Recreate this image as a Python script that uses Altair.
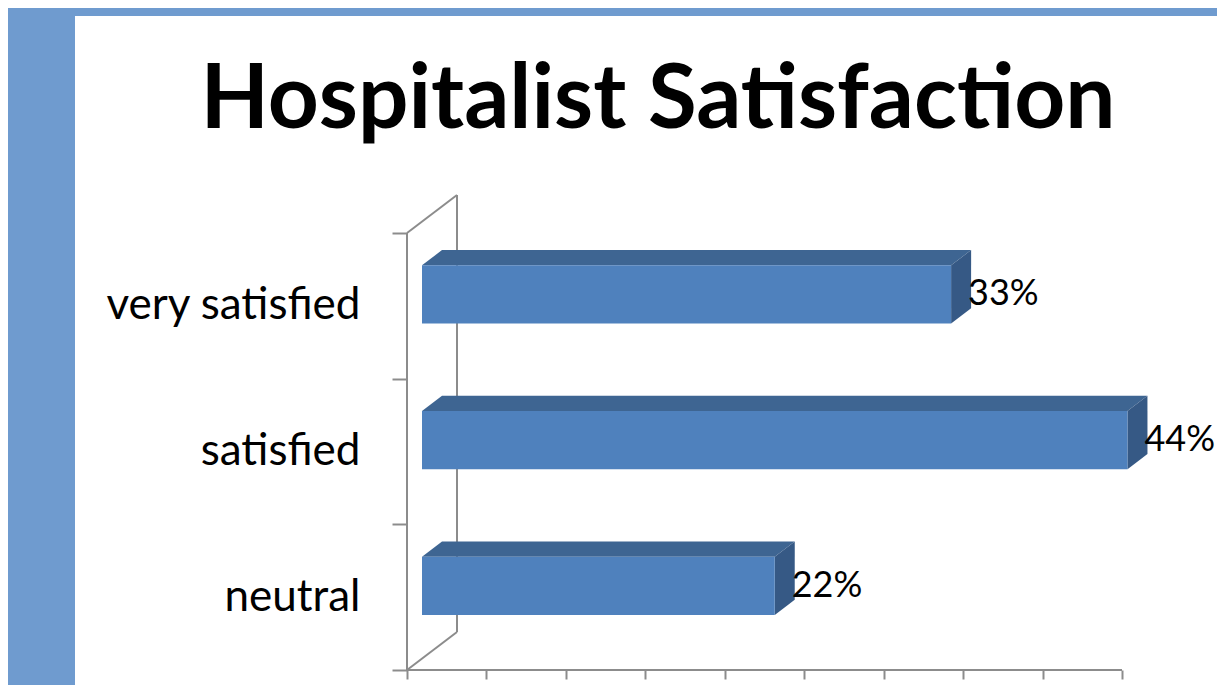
import altair as alt
import pandas as pd

# ---------------- data ----------------
categories = ["neutral", "satisfied", "very satisfied"]
values = [22.2, 44.4, 33.3]
value_labels = ["22%", "44%", "33%"]
title_text = "Hospitalist Satisfaction"
x_ticks = [0, 5, 10, 15, 20, 25, 30, 35, 40, 45]
y_ticks = [0, 1, 2, 3]

# ---------------- geometry / style ----------------
W, H = 1142, 669            # view (white slide area)
AX_LEFT = 332               # px from view left to front value axis
AX_BOTTOM = 654             # px from view top to front floor edge
PX_PCT = 715 / 45
PX_SLOT = 437 / 3
X_DOM = [-AX_LEFT / PX_PCT, (W - AX_LEFT) / PX_PCT]
Y_DOM = [-(H - AX_BOTTOM) / PX_SLOT, AX_BOTTOM / PX_SLOT]
DX = 50 / PX_PCT            # full depth shift in data units
DY = 38 / PX_SLOT
D0, D1 = 0.3, 0.7           # bar depth range
HALF = 0.2                  # half bar thickness (slot units)

FRONT = "#4f81bd"
TOP = "#3e6592"
SIDE = "#365985"
GRID = "#8c8c8c"
BG = "#6f9bcf"
FONT = "Lato"

front_rows, top_rows, side_rows, lab_rows = [], [], [], []
for i, (c, v, lab) in enumerate(zip(categories, values, value_labels)):
    ctr = i + 0.5
    x0 = D0 * DX
    x1 = v + D0 * DX
    yb = ctr - HALF + D0 * DY
    yt = ctr + HALF + D0 * DY
    bx = (D1 - D0) * DX
    by = (D1 - D0) * DY
    front_rows.append(dict(cat=c, x=x0, x2=x1, y=yb, y2=yt))
    top_rows += [
        dict(cat=c, x=x0, y=yt, y2=yt),
        dict(cat=c, x=x0 + bx, y=yt, y2=yt + by),
        dict(cat=c, x=x1, y=yt, y2=yt + by),
        dict(cat=c, x=x1 + bx, y=yt + by, y2=yt + by),
    ]
    side_rows += [
        dict(cat=c, x=x1, y=yb, y2=yt),
        dict(cat=c, x=x1 + bx, y=yb + by, y2=yt + by),
    ]
    lab_rows.append(dict(cat=c, x=v + D1 * DX, y=ctr + D0 * DY, label=lab))

frame_rows = [
    dict(x=0, y=0, x2=0, y2=3),
    dict(x=0, y=3, x2=DX, y2=3 + DY),
    dict(x=DX, y=DY, x2=DX, y2=3 + DY),
    dict(x=0, y=0, x2=DX, y2=DY),
    dict(x=0, y=0, x2=x_ticks[-1], y2=0),
]

front_df = pd.DataFrame(front_rows)
top_df = pd.DataFrame(top_rows)
side_df = pd.DataFrame(side_rows)
lab_df = pd.DataFrame(lab_rows)
frame_df = pd.DataFrame(frame_rows)

label_expr = " : ".join(
    f"datum.value == {i + 0.5} ? '{c}'" for i, c in enumerate(categories)
) + " : ''"

xs = alt.Scale(domain=X_DOM, nice=False, zero=False)
ys = alt.Scale(domain=Y_DOM, nice=False, zero=False)

x_axis = alt.Axis(
    values=x_ticks, labels=False, domain=False, grid=False, title=None,
    tickSize=9, tickWidth=2, tickColor=GRID, orient="bottom",
    offset=-(H - AX_BOTTOM),
)
y_axis = alt.Axis(
    values=[0, 0.5, 1, 1.5, 2, 2.5, 3], labelExpr=label_expr,
    domain=False, grid=False, title=None, orient="left",
    tickSize=15, tickWidth=2, tickColor=GRID,
    tickOpacity={"condition": {"test": "datum.value % 1 != 0", "value": 0}, "value": 1},
    labelPadding=32, labelFont=FONT, labelFontSize=44, labelColor="black",
    labelLimit=0, offset=-AX_LEFT,
)


def X(f="x"):
    return alt.X(f"{f}:Q", scale=xs, axis=x_axis)


def Y(f="y"):
    return alt.Y(f"{f}:Q", scale=ys, axis=y_axis, stack=None)


frame = alt.Chart(frame_df).mark_rule(color=GRID, strokeWidth=2).encode(
    x=X(), y=Y(), x2="x2:Q", y2="y2:Q"
)

top = alt.Chart(top_df).mark_area(color=TOP, opacity=1).encode(
    x=X(), y=Y(), y2="y2:Q", detail="cat:N"
)

side = alt.Chart(side_df).mark_area(color=SIDE, opacity=1).encode(
    x=X(), y=Y(), y2="y2:Q", detail="cat:N"
)

front = alt.Chart(front_df).mark_rect(color=FRONT, opacity=1).encode(
    x=X(), x2="x2:Q", y=Y(), y2="y2:Q"
)

labels = alt.Chart(lab_df).mark_text(
    align="left", baseline="middle", dx=-3, font=FONT, fontSize=36, color="black"
).encode(x=X(), y=Y(), text="label:N")

title_df = pd.DataFrame([dict(t=title_text)])
title = alt.Chart(title_df).mark_text(
    align="center", baseline="alphabetic", font=FONT, fontSize=89,
    fontWeight="bold", color="black"
).encode(x=alt.value(583), y=alt.value(112), text="t:N")

chart = (
    alt.layer(frame, top, side, front, labels, title)
    .properties(
        width=W, height=H, autosize="none",
        padding={"left": 67, "top": 8, "right": 0, "bottom": 0},
        background=BG,
    )
    .configure_view(fill="white", stroke=None)
)

chart.save("out.html", embed_options={"renderer": "svg", "actions": False})
